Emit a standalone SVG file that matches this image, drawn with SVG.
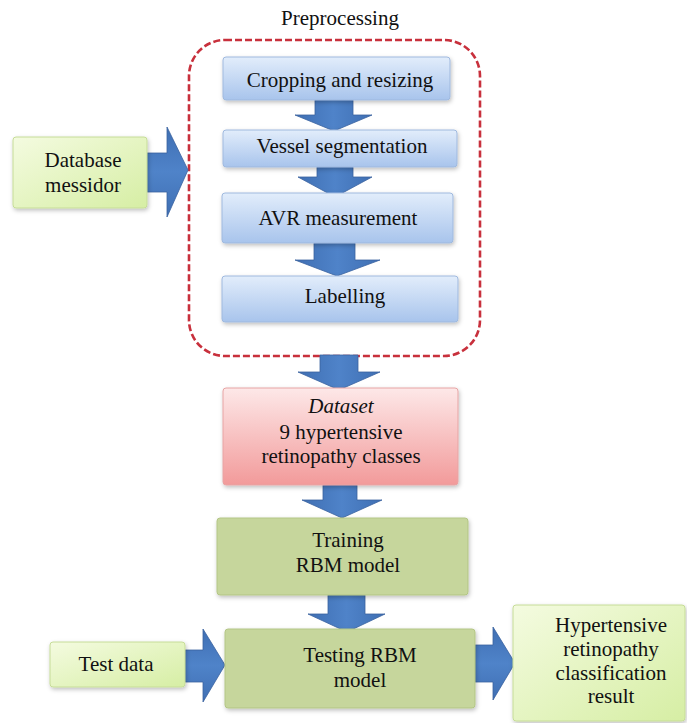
<svg xmlns="http://www.w3.org/2000/svg" width="687" height="723" viewBox="0 0 687 723" font-family="'Liberation Serif', 'DejaVu Serif', serif">
<defs>
<linearGradient id="gBlue" x1="0" y1="0" x2="0" y2="1"><stop offset="0" stop-color="#e2edfb"/><stop offset="1" stop-color="#a8c4ec"/></linearGradient>
<linearGradient id="gPink" x1="0" y1="0" x2="0" y2="1"><stop offset="0" stop-color="#fde8e8"/><stop offset="1" stop-color="#f29a9a"/></linearGradient>
<linearGradient id="gLight" x1="0" y1="0" x2="1" y2="1"><stop offset="0" stop-color="#f4fbe0"/><stop offset="1" stop-color="#d6eea4"/></linearGradient>
<linearGradient id="gArrowV" x1="0" y1="0" x2="1" y2="0"><stop offset="0" stop-color="#3f6fb3"/><stop offset="0.5" stop-color="#4f83c9"/><stop offset="1" stop-color="#3f6fb3"/></linearGradient>
<linearGradient id="gArrowH" x1="0" y1="0" x2="0" y2="1"><stop offset="0" stop-color="#3f6fb3"/><stop offset="0.5" stop-color="#4f83c9"/><stop offset="1" stop-color="#3f6fb3"/></linearGradient>
<filter id="sh" x="-10%" y="-10%" width="125%" height="130%"><feDropShadow dx="1" dy="2" stdDeviation="2" flood-color="#000" flood-opacity="0.25"/></filter>
</defs>
<style>
text{font-family:'Liberation Serif','DejaVu Serif',serif;font-size:21px;fill:#111;text-anchor:middle}
.blue{fill:url(#gBlue);stroke:#9fb9de;stroke-width:1;filter:url(#sh)}
.pink{fill:url(#gPink);stroke:#e7a4a4;stroke-width:1;filter:url(#sh)}
.olive{fill:#c6d69c;stroke:#b3c585;stroke-width:1;filter:url(#sh)}
.light{fill:url(#gLight);stroke:#c6dc98;stroke-width:1;filter:url(#sh)}
.av{fill:url(#gArrowV);stroke:#3a62a0;stroke-width:0.8}
.ah{fill:url(#gArrowH);stroke:#3a62a0;stroke-width:0.8}
.dash{fill:none;stroke:#c8303c;stroke-width:2.6;stroke-dasharray:7 3}
</style>
<rect width="687" height="723" fill="#fff"/>
<g id="preprocessing">
<rect class="dash" x="189" y="40" width="291" height="316" rx="36"/>
<text x="340" y="25">Preprocessing</text>
</g>
<g id="connectors">
<path class="av" d="M315 100 H353 V115 H372 L334 131 L295 115 H315 Z"/>
<path class="av" d="M317 167 H353 V177 H372 L335 197 L298 177 H317 Z"/>
<path class="av" d="M314 243 H355 V260 H380 L337 276 L295 260 H314 Z"/>
<path class="av" d="M320 355 H358 V372 H380 L339 390 L298 372 H320 Z"/>
<path class="av" d="M323 485 H357 V500 H382 L342 518 L302 500 H323 Z"/>
<path class="av" d="M328 595 H365 V614 H385 L347 632 L308 614 H328 Z"/>
<path class="ah" d="M147 153 H167 V127 L188 170 L167 217 V192 H147 Z"/>
<path class="ah" d="M185 650 H203 V629 L225 665 L203 702 V682 H185 Z"/>
<path class="ah" d="M475 645 H493 V627 L515 663 L493 700 V682 H475 Z"/>
</g>
<g id="cropping">
<rect class="blue" x="223" y="57" width="227" height="43" rx="3"/>
<text x="340" y="87">Cropping and resizing</text>
</g>
<g id="vessel">
<rect class="blue" x="223" y="130" width="234" height="37" rx="3"/>
<text x="342" y="153">Vessel segmentation</text>
</g>
<g id="avr">
<rect class="blue" x="222" y="193" width="231" height="50" rx="3"/>
<text x="338" y="225">AVR measurement</text>
</g>
<g id="labelling">
<rect class="blue" x="222" y="276" width="236" height="46" rx="3"/>
<text x="345" y="303">Labelling</text>
</g>
<g id="database">
<rect class="light" x="13" y="137" width="134" height="71" rx="3"/>
<text x="83" y="167">Database</text>
<text x="83" y="192">messidor</text>
</g>
<g id="dataset">
<rect class="pink" x="223" y="388" width="235" height="97" rx="3"/>
<text x="341" y="413" font-style="italic">Dataset</text>
<text x="341" y="439">9 hypertensive</text>
<text x="341" y="463">retinopathy classes</text>
</g>
<g id="training">
<rect class="olive" x="217" y="518" width="251" height="77" rx="3"/>
<text x="348" y="547">Training</text>
<text x="348" y="572">RBM model</text>
</g>
<g id="testdata">
<rect class="light" x="50" y="642" width="135" height="45" rx="3"/>
<text x="116" y="671">Test data</text>
</g>
<g id="testing">
<rect class="olive" x="225" y="629" width="250" height="79" rx="3"/>
<text x="360" y="662">Testing RBM</text>
<text x="360" y="687">model</text>
</g>
<g id="result">
<rect class="light" x="513" y="605" width="172" height="116" rx="3"/>
<text x="611" y="632">Hypertensive</text>
<text x="611" y="656">retinopathy</text>
<text x="611" y="680">classification</text>
<text x="611" y="703">result</text>
</g>
</svg>
